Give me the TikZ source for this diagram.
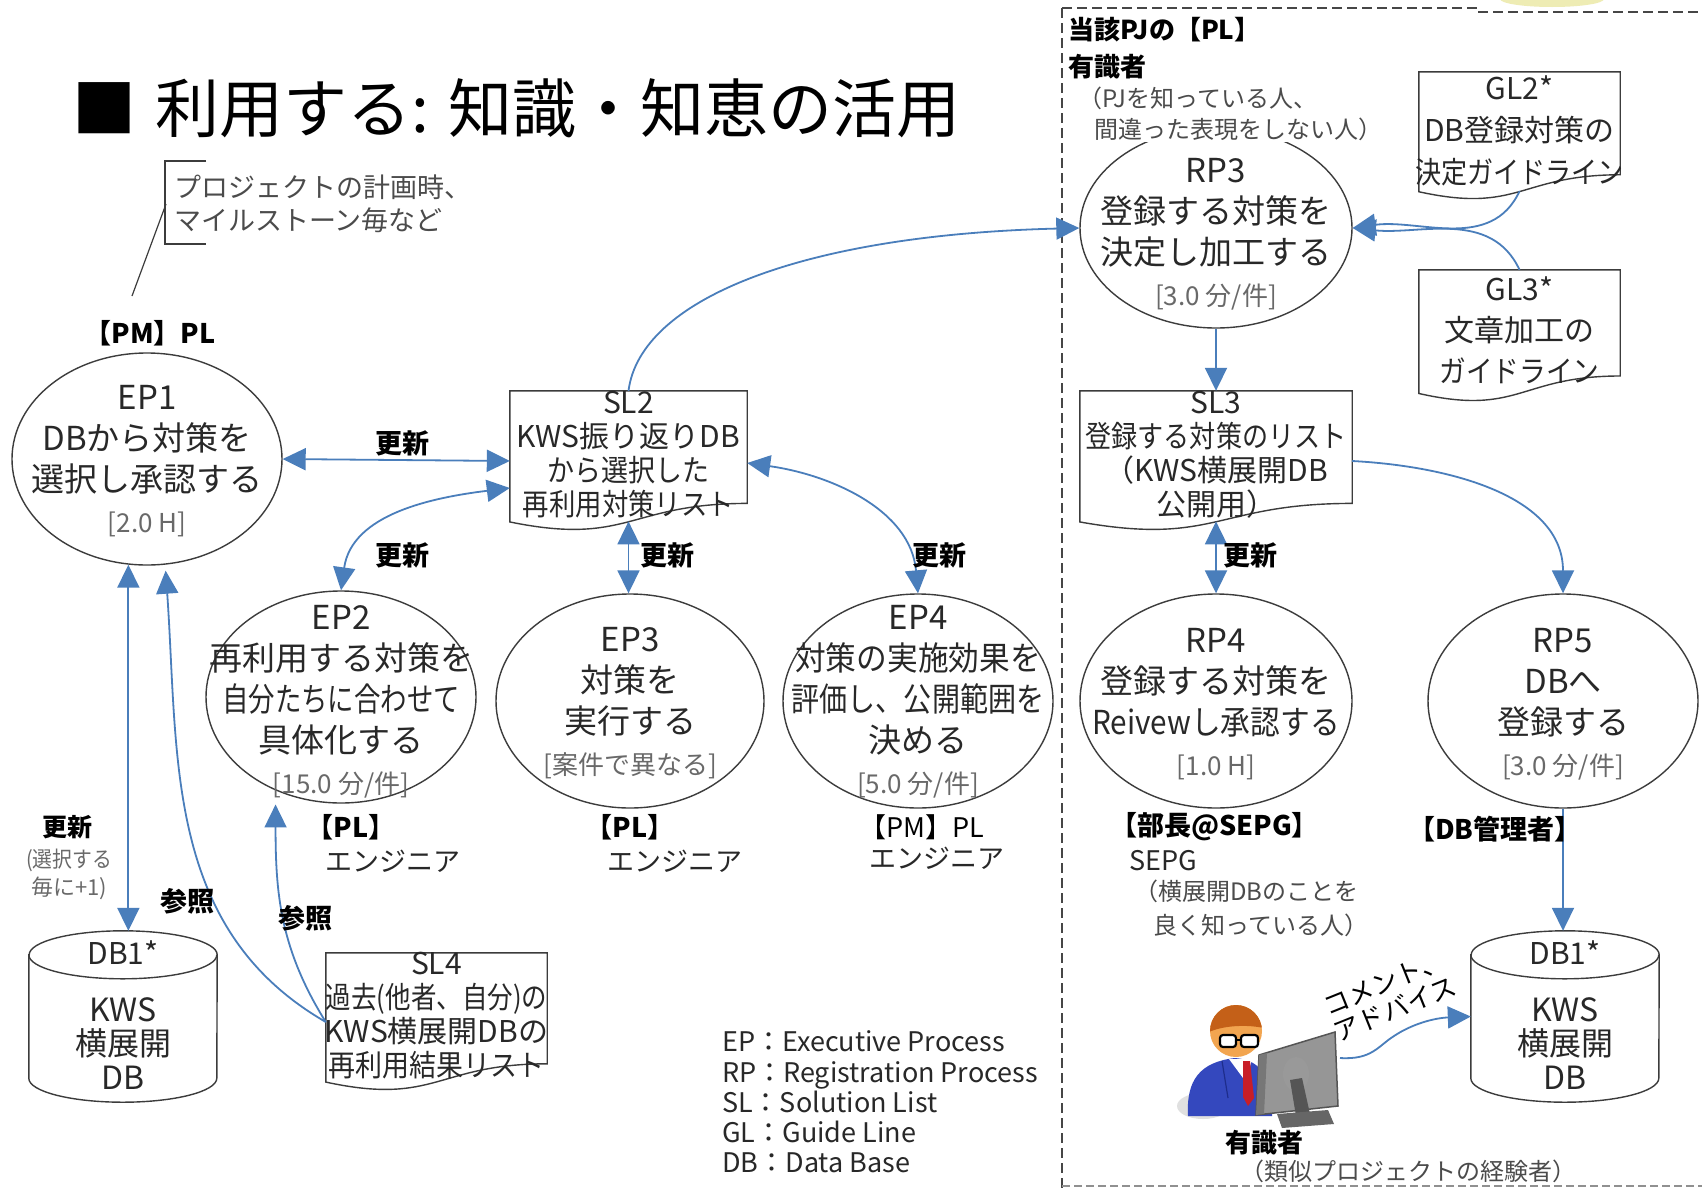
\documentclass[tikz,border=0pt]{standalone}
\usepackage{fontspec}
\setmainfont{Noto Sans CJK JP}
\usepackage{graphicx}
\usetikzlibrary{shapes.geometric, arrows.meta, calc}

\definecolor{linkblue}{RGB}{74,126,187}
\definecolor{outline}{RGB}{60,60,60}
\definecolor{ink}{RGB}{40,40,40}
\definecolor{subgray}{RGB}{105,105,105}
\definecolor{notegray}{RGB}{75,75,75}
\definecolor{framegray}{RGB}{70,70,70}
\definecolor{hair}{RGB}{196,96,24}
\definecolor{skin}{RGB}{242,165,80}
\definecolor{suit}{RGB}{52,72,190}
\definecolor{suitdark}{RGB}{30,45,140}
\definecolor{tiered}{RGB}{200,30,40}
\definecolor{screen}{RGB}{150,150,150}
\definecolor{screendark}{RGB}{85,85,85}
\definecolor{paleyellow}{RGB}{238,236,180}

\newcommand\fs[2]{\fontsize{#1}{#2}\selectfont}
\newcommand\squeeze[2]{\scalebox{#1}[1]{#2}}
\newcommand\subln[1]{{\color{subgray}\fs{26}{41}#1}}

\tikzset{
  proc/.style={ellipse, draw=outline, line width=1.4pt, inner sep=0pt},
  ptext/.style={align=center, text=ink, font=\fs{33}{41}, inner sep=0pt},
  docbox/.style={rectangle, inner sep=0pt},
  dtext/.style={align=center, text=ink, font=\fs{30}{34}, inner sep=0pt},
  lbl/.style={font=\bfseries\fs{27}{33}, text=black, inner sep=0pt},
  role/.style={font=\fs{27}{33}, text=ink, inner sep=0pt},
  remark/.style={font=\fs{24}{30}, text=notegray, inner sep=0pt},
  conn/.style={draw=linkblue, line width=1.8pt},
  onetip/.style={-{Triangle[length=23pt,width=22pt]}},
  twotips/.style={{Triangle[length=23pt,width=22pt]}-{Triangle[length=23pt,width=22pt]}},
  docline/.style={draw=outline, line width=1.4pt, fill=white},
  pjframe/.style={draw=framegray, line width=1.5pt, dash pattern=on 10pt off 5pt},
}

% flowchart "document" outline around a rectangular node
\newcommand\docshape[1]{%
  \path[docline] (#1.north west) -- (#1.north east)
    -- ($(#1.north east)!0.802!(#1.south east)$)
    .. controls ($(#1.north)!0.802!(#1.south)$) and ($(#1.north)!1.107!(#1.south)$)
    .. ($(#1.north west)!0.934!(#1.south west)$) -- cycle;}

% database cylinder around a rectangular node
\newcommand\dbshape[1]{%
  \path[docline] ($(#1.north west)+(0,-24)$) -- ($(#1.south west)+(0,24)$)
    arc[start angle=180, end angle=360, x radius=94pt, y radius=24pt]
    -- ($(#1.north east)+(0,-24)$)
    arc[start angle=0, end angle=180, x radius=94pt, y radius=24pt] -- cycle;
  \draw[outline, line width=1.4pt] ($(#1.north west)+(0,-24)$)
    arc[start angle=180, end angle=360, x radius=94pt, y radius=24pt];}

\begin{document}
\begin{tikzpicture}[x=1pt, y=1pt]
\useasboundingbox (0,0) rectangle (1702,-1189);
\fill[white] (0,0) rectangle (1702,-1189);

% dashed frame of the registration side
\begin{scope}
  \clip (0,0) rectangle (1702,-1189);
  \fill[paleyellow] (1552,1) ellipse[x radius=52pt, y radius=8pt];
\end{scope}
\draw[pjframe] (1062,-8) -- (1478,-8);
\draw[pjframe] (1478,-12) -- (1702,-12);
\draw[pjframe] (1062,-8) -- (1062,-1189);
\draw[draw=framegray!60, line width=1.2pt, dash pattern=on 8pt off 4pt] (1062,-1186) -- (1702,-1186);

% title
\node[anchor=west, inner sep=0pt, font=\fs{64}{72}, text=black] (title) at (72,-108)
  {■\hspace{0.3em}利用する: 知識・知恵の活用};

% planning note with bracket
\node[anchor=west, align=left, font=\fs{27}{33}, text=notegray, inner sep=0pt] (plannote) at (174,-204)
  {プロジェクトの計画時、\\マイルストーン毎など};
\draw[outline, line width=1.2pt] (206,-161) -- (165,-161) -- (165,-244) -- (206,-244);
\coordinate (leadtop) at (166,-204);
\coordinate (leadend) at (132,-296);
\draw[outline, line width=1.2pt] (leadtop) -- (leadend);

% process ellipses
\node[proc, minimum width=270pt, minimum height=212pt] (ep1) at (147,-459) {};
\node[proc, minimum width=270pt, minimum height=212pt] (ep2) at (341,-697) {};
\node[proc, minimum width=268pt, minimum height=214pt] (ep3) at (630,-701) {};
\node[proc, minimum width=270pt, minimum height=214pt] (ep4) at (918,-701) {};
\node[proc, minimum width=272pt, minimum height=200pt] (rp3) at (1216,-228) {};
\node[proc, minimum width=272pt, minimum height=214pt] (rp4) at (1216,-701) {};
\node[proc, minimum width=270pt, minimum height=214pt] (rp5) at (1563,-701) {};

\node[ptext] (ep1t) at (147,-461) {EP1\\DBから対策を\\選択し承認する\\\subln{[2.0 H]}};
\node[ptext] (ep2t) at (341,-702) {EP2\\再利用する対策を\\\squeeze{0.8}{自分たちに合わせて}\\具体化する\\\subln{[15.0 分/件]}};
\node[ptext] (ep3t) at (630,-703) {EP3\\対策を\\実行する\\\subln{[案件で異なる]}};
\node[ptext] (ep4t) at (918,-702) {EP4\\\squeeze{0.93}{対策の実施効果を}\\\squeeze{0.85}{評価し、公開範囲を}\\決める\\\subln{[5.0 分/件]}};
\node[ptext] (rp3t) at (1216,-234) {RP3\\登録する対策を\\決定し加工する\\\subln{[3.0 分/件]}};
\node[ptext] (rp4t) at (1216,-704) {RP4\\登録する対策を\\\squeeze{0.9}{Reivewし承認する}\\\subln{[1.0 H]}};
\node[ptext] (rp5t) at (1563,-704) {RP5\\DBへ\\登録する\\\subln{[3.0 分/件]}};

% solution lists and guide lines
\node[docbox, minimum width=237pt, minimum height=140pt] (sl2) at (628.5,-461) {};
\node[docbox, minimum width=272pt, minimum height=140pt] (sl3) at (1216,-461) {};
\node[docbox, minimum width=221pt, minimum height=138pt] (sl4) at (436.5,-1022) {};
\node[docbox, minimum width=201pt, minimum height=128pt] (gl2) at (1519.5,-136) {};
\node[docbox, minimum width=201pt, minimum height=132pt] (gl3) at (1519.5,-336) {};
\docshape{sl2}
\docshape{sl3}
\docshape{sl4}
\docshape{gl2}
\docshape{gl3}
\node[dtext] (sl2t) at (628.5,-455) {SL2\\KWS振り返りDB\\\squeeze{0.9}{から選択した}\\\squeeze{0.88}{再利用対策リスト}};
\node[dtext] (sl3t) at (1216,-455) {SL3\\\squeeze{0.87}{登録する対策のリスト}\\（KWS横展開DB\\公開用）};
\node[dtext] (sl4t) at (436.5,-1016) {SL4\\\squeeze{0.85}{過去(他者、自分)の}\\KWS横展開DBの\\\squeeze{0.9}{再利用結果リスト}};
\node[dtext, font=\fs{30}{42}] (gl2t) at (1519.5,-131) {GL2*\\DB登録対策の\\\squeeze{0.87}{決定ガイドライン}};
\node[dtext, font=\fs{30}{41}] (gl3t) at (1519.5,-330) {GL3*\\文章加工の\\\squeeze{0.89}{ガイドライン}};

% databases
\node[docbox, minimum width=188pt, minimum height=171pt] (dbl) at (123,-1016.5) {};
\node[docbox, minimum width=188pt, minimum height=171pt] (dbr) at (1565,-1016.5) {};
\dbshape{dbl}
\dbshape{dbr}
\node[dtext] (dblh) at (123,-953) {DB1*};
\node[dtext, font=\fs{32}{34}] (dblt) at (123,-1044) {KWS\\横展開\\DB};
\node[dtext] (dbrh) at (1565,-953) {DB1*};
\node[dtext, font=\fs{32}{34}] (dbrt) at (1565,-1044) {KWS\\横展開\\DB};

% wave points on the document bottoms
\coordinate (sl2b) at ($(sl2.north)!0.93!(sl2.south)$);
\coordinate (sl3b) at ($(sl3.north)!0.93!(sl3.south)$);
\coordinate (gl2b) at ($(gl2.north)!0.93!(gl2.south)$);

% connectors
\draw[conn, twotips] (ep1.east) -- (sl2.west);
\draw[conn, twotips] ([yshift=-27pt]sl2.west) to[out=187, in=82] (ep2.north);
\draw[conn, twotips] (sl2b) -- (sl2b |- ep3.north);
\draw[conn, twotips] ([yshift=-2pt]sl2.east) to[out=-8, in=95] (ep4.north);
\draw[conn, onetip] (sl2.north) .. controls (640,-300) and (800,-235) .. (rp3.west);
\draw[conn, onetip] (gl2b) to[out=-115, in=8] (rp3.east);
\draw[conn, onetip] (gl3.north) to[out=115, in=-6] (rp3.east);
\draw[conn, onetip] (rp3.south) -- (sl3.north);
\draw[conn, twotips] (sl3b) -- (sl3b |- rp4.north);
\draw[conn, onetip] (sl3.east) to[out=-3, in=90] (rp5.north);
\draw[conn, onetip] (rp5.south) -- (rp5.south |- dbr.north);
\draw[conn, twotips] (ep1.-100) -- (ep1.-100 |- dbl.north);
\draw[conn, onetip] (sl4.west) to[out=150, in=-86] ([yshift=-6pt]ep1.-80);
\draw[conn, onetip] (sl4.west) to[out=122, in=-90] ([yshift=-14pt]ep2.-125);

% connector labels
\node[lbl] (upd1) at (402,-443) {更新};
\node[lbl] (upd2) at (402,-555) {更新};
\node[lbl] (upd3) at (667,-555) {更新};
\node[lbl] (upd4) at (939,-555) {更新};
\node[lbl] (upd5) at (1250,-555) {更新};
\node[lbl, font=\bfseries\fs{25}{30}] (upd6) at (67,-827) {更新};
\node[remark, align=center, font=\fs{22}{28}, text=subgray] (upd6n) at (69,-874) {\squeeze{0.9}{(選択する}\\毎に+1)};
\node[lbl] (ref1) at (187,-901) {参照};
\node[lbl] (ref2) at (305,-918) {参照};

% roles
\node[lbl] (pm1) at (150,-333) {【PM】PL};
\node[lbl] (pl2) at (351,-827) {【PL】};
\node[role] (en2) at (393,-861) {エンジニア};
\node[lbl] (pl3) at (630,-827) {【PL】};
\node[role] (en3) at (675,-861) {エンジニア};
\node[lbl, font=\fs{27}{33}] (pm4) at (922,-827) {【PM】PL};
\node[role] (en4) at (937,-858) {エンジニア};
\node[lbl, anchor=west] (sepg) at (1110,-827) {【部長@SEPG】};
\node[role, anchor=west] (sepg2) at (1129,-861) {SEPG};
\node[remark, anchor=west] (sepg3) at (1134,-891) {（横展開DBのことを};
\node[remark, anchor=west] (sepg4) at (1153,-925) {良く知っている人）};
\node[lbl, anchor=west] (dbadm) at (1408,-829) {【DB管理者】};

\node[lbl, anchor=west, font=\bfseries\fs{26}{30}] (plhead) at (1068,-30) {当該PJの【PL】};
\node[lbl, anchor=west, font=\bfseries\fs{26}{30}] (expert1) at (1068,-67) {有識者};
\node[remark, anchor=west] (expert2) at (1078,-98) {（PJを知っている人、};
\node[remark, anchor=west, fill=white, inner sep=2pt] (expert3) at (1092,-129) {間違った表現をしない人）};

% legend
\node[anchor=west, align=left, font=\fs{27}{30.3}, text=ink, inner sep=0pt] (legend) at (722,-1102)
  {EP：Executive Process\\RP：Registration Process\\SL：Solution List\\GL：Guide Line\\DB：Data Base};

% expert at a computer
\fill[black!12] (1203,-1106) ellipse[x radius=26pt, y radius=13pt];
\fill[suit] (1188,-1116) .. controls (1186,-1080) and (1200,-1062) .. (1235,-1058)
  .. controls (1262,-1060) and (1272,-1078) .. (1272,-1116) -- cycle;
\draw[suitdark, line width=1.2pt] (1222,-1061) -- (1228,-1098);
\fill[white] (1229,-1059) -- (1252,-1059) -- (1246,-1082) -- cycle;
\fill[tiered] (1243,-1061) -- (1250,-1061) -- (1254,-1098) -- (1248,-1106) -- (1243,-1097) -- cycle;
\fill[skin] (1236,-1031) circle[radius=26pt];
\begin{scope}
  \clip (1236,-1031) circle[radius=26pt];
  \fill[hair] (1205,-1000) -- (1270,-1000) -- (1270,-1030) .. controls (1255,-1024) and (1222,-1024) .. (1205,-1034) -- cycle;
\end{scope}
\filldraw[fill=white, draw=black, line width=2.2pt, rounded corners=3pt] (1220,-1035) rectangle (1236,-1047);
\filldraw[fill=white, draw=black, line width=2.2pt, rounded corners=3pt] (1241,-1035) rectangle (1258,-1047);
\draw[black, line width=2pt] (1236,-1040) -- (1241,-1040);
\filldraw[fill=screen, draw=screendark, line width=1.5pt] (1259,-1055) -- (1335,-1032) -- (1338,-1106) -- (1256,-1115) -- cycle;
\fill[screendark!80] (1259,-1055) -- (1267,-1053) -- (1264,-1114) -- (1256,-1115) -- cycle;
\fill[screendark!60] (1296,-1074) ellipse[x radius=13pt, y radius=17pt];
\fill[screendark] (1290,-1080) -- (1302,-1078) -- (1310,-1114) -- (1296,-1116) -- cycle;
\fill[screendark!90] (1277,-1114) -- (1328,-1110) -- (1334,-1124) -- (1282,-1128) -- cycle;
\coordinate (pc) at (1340,-1058);
\node[lbl, font=\bfseries\fs{26}{30}] (expert4) at (1264,-1143) {有識者};
\node[remark] (expert5) at (1408,-1171) {（類似プロジェクトの経験者）};

\draw[conn, onetip] (pc) .. controls (1372,-1060) and (1378,-1046) .. (1394,-1036)
  .. controls (1412,-1024) and (1434,-1018) .. (dbr.west);
\node[rotate=22, align=left, font=\fs{26}{28}, text=black, inner sep=0pt] (advice) at (1390,-996)
  {コメント、\\アドバイス};

\end{tikzpicture}
\end{document}
